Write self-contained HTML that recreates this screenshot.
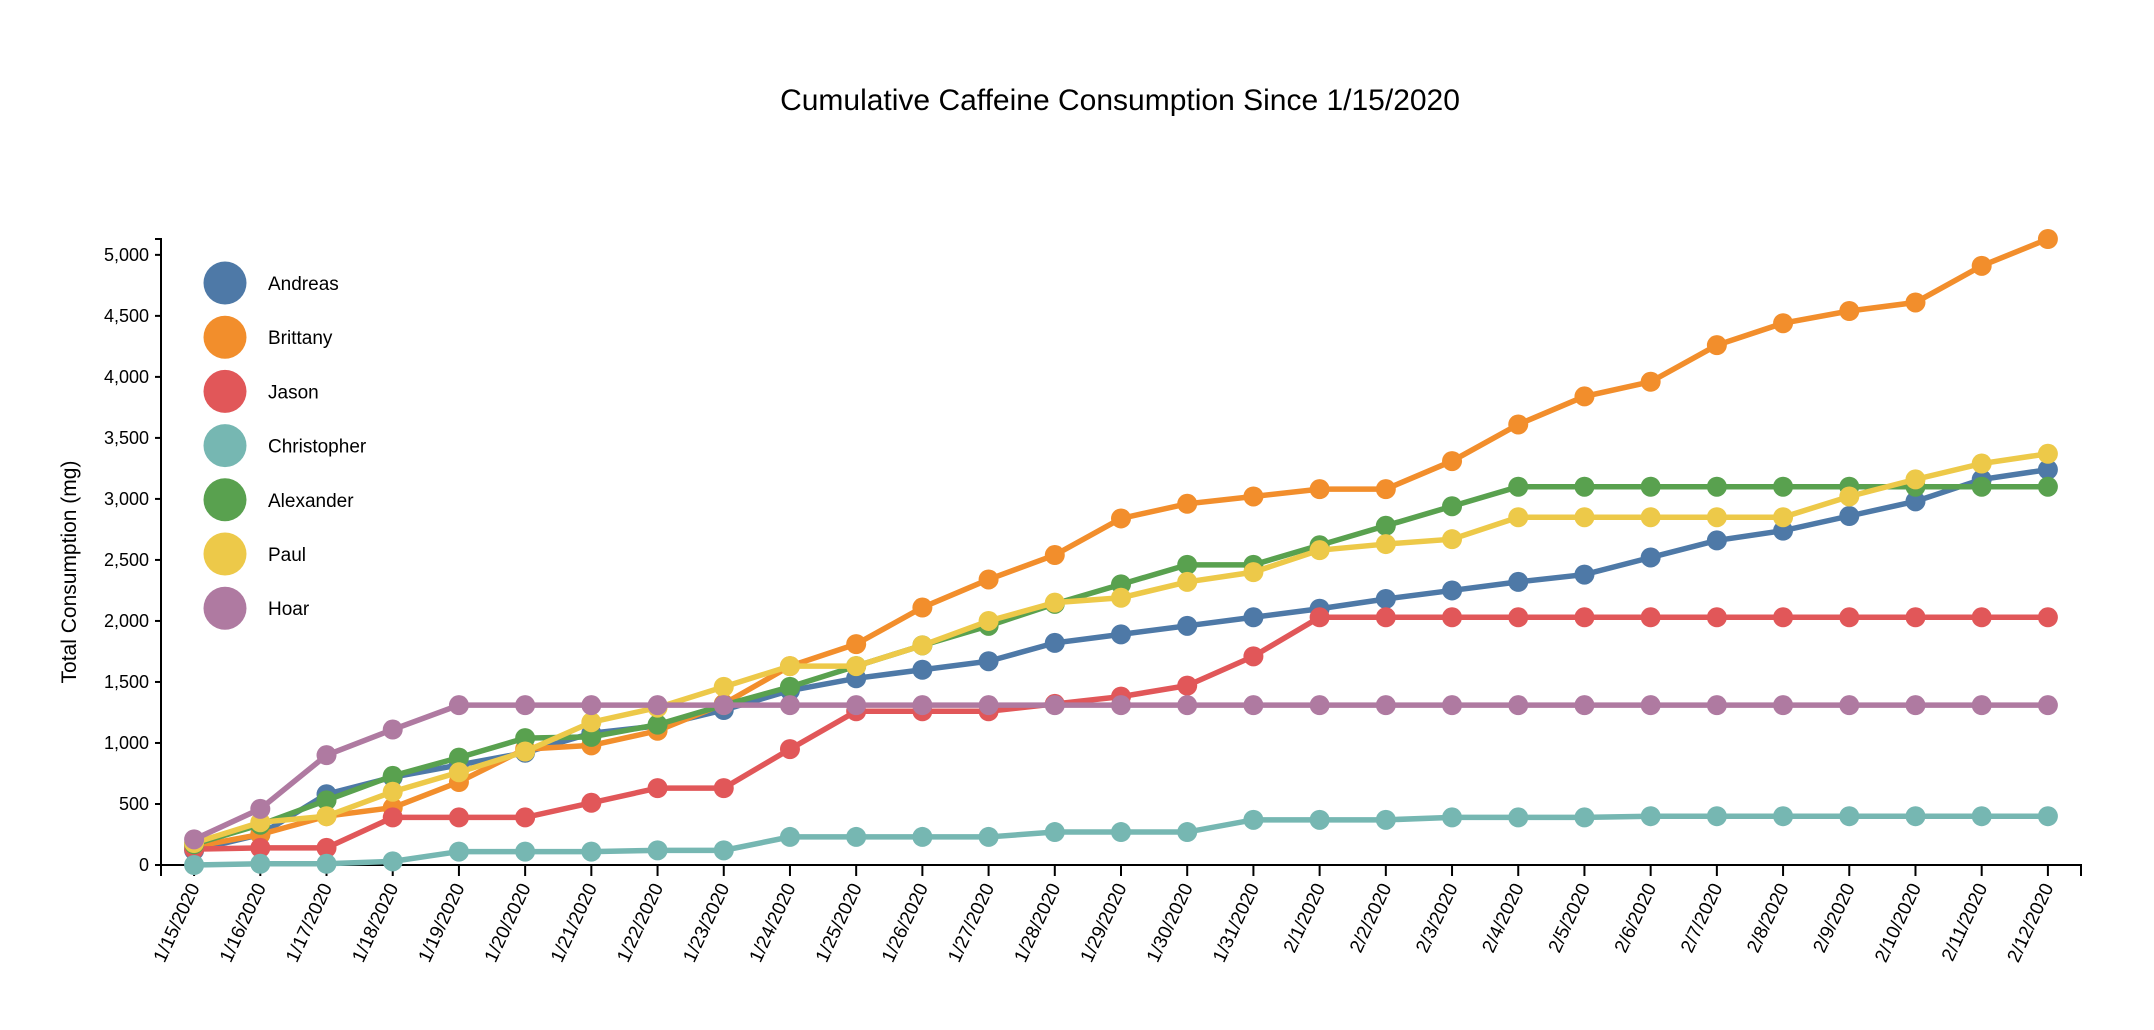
<!DOCTYPE html>
<html><head><meta charset="utf-8">
<style>
html,body{margin:0;padding:0;background:#fff;}
svg{display:block;font-family:"Liberation Sans",Arial,sans-serif;}
</style></head>
<body>
<svg id="chart" width="2154" height="1030"></svg>
<script>
const dates = ["1/15/2020","1/16/2020","1/17/2020","1/18/2020","1/19/2020","1/20/2020","1/21/2020","1/22/2020","1/23/2020","1/24/2020","1/25/2020","1/26/2020","1/27/2020","1/28/2020","1/29/2020","1/30/2020","1/31/2020","2/1/2020","2/2/2020","2/3/2020","2/4/2020","2/5/2020","2/6/2020","2/7/2020","2/8/2020","2/9/2020","2/10/2020","2/11/2020","2/12/2020"];
const names = ["Andreas","Brittany","Jason","Christopher","Alexander","Paul","Hoar"];
const colors = ["#4e79a7","#f28e2c","#e15759","#76b7b2","#59a14f","#edc949","#af7aa1"];
const andreas = [120,250,580,720,820,920,1080,1140,1270,1430,1530,1600,1670,1820,1890,1960,2030,2100,2180,2250,2320,2380,2520,2660,2740,2860,2980,3160,3240];
const brittany = [150,250,400,470,680,950,980,1100,1320,1630,1810,2110,2340,2540,2840,2960,3020,3080,3080,3310,3610,3840,3960,4260,4440,4540,4610,4910,5130];
const jason = [130,140,140,390,390,390,510,630,630,950,1260,1260,1260,1320,1380,1470,1710,2030,2030,2030,2030,2030,2030,2030,2030,2030,2030,2030,2030];
const christopher = [0,10,10,30,110,110,110,120,120,230,230,230,230,270,270,270,370,370,370,390,390,390,400,400,400,400,400,400,400];
const alexander = [170,330,530,730,880,1040,1050,1150,1310,1460,1630,1800,1960,2140,2300,2460,2460,2620,2780,2940,3100,3100,3100,3100,3100,3100,3100,3100,3100];
const paul = [180,350,400,600,760,930,1170,1290,1460,1630,1630,1800,2000,2150,2190,2320,2400,2580,2630,2670,2850,2850,2850,2850,2850,3020,3160,3290,3370];
const hoar = [210,460,900,1110,1310,1310,1310,1310,1310,1310,1310,1310,1310,1310,1310,1310,1310,1310,1310,1310,1310,1310,1310,1310,1310,1310,1310,1310,1310];
const yTicks = [0,500,1000,1500,2000,2500,3000,3500,4000,4500,5000];

const series = [andreas,brittany,jason,christopher,alexander,paul,hoar];
const NS = "http://www.w3.org/2000/svg";
const svg = document.getElementById("chart");
const L = 161, R = 2081, T = 239, B = 865;
const yMax = Math.max(...series.flat());
const step = (R - L) / (dates.length - 1 + 1);
function x(i){ return L + step*0.5 + i*step; }
function y(v){ return B - (v / yMax) * (B - T); }
function el(tag, attrs, parent){ const e = document.createElementNS(NS, tag); for (const k in attrs) e.setAttribute(k, attrs[k]); (parent||svg).appendChild(e); return e; }

const title = el("text",{x:1120,y:110,"text-anchor":"middle","font-size":30,fill:"#000"});
title.textContent = "Cumulative Caffeine Consumption Since 1/15/2020";



const yAxis = el("g",{});


el("path",{d:`M${L-6},${T}H${L}V${B}H${L-6}`,fill:"none",stroke:"#000","stroke-width":2},yAxis);
yTicks.forEach(t=>{
  const ty = y(t);
  el("line",{x1:L-6,x2:L,y1:ty,y2:ty,stroke:"#000","stroke-width":2},yAxis);
  const lb = el("text",{x:L-12,y:ty+6,"text-anchor":"end","font-size":18,fill:"#000"},yAxis);
  lb.textContent = t.toLocaleString("en-US");
  
  
});
const yt = el("text",{transform:`translate(76,${(T+B)/2+20}) rotate(-90)`,"text-anchor":"middle","font-size":21,fill:"#000"});
yt.textContent = "Total Consumption (mg)";



const xAxis = el("g",{});


el("path",{d:`M${L},${B+11}V${B}H${R}V${B+11}`,fill:"none",stroke:"#000","stroke-width":2},xAxis);
dates.forEach((d,i)=>{
  const tx = x(i);
  el("line",{x1:tx,x2:tx,y1:B,y2:B+11,stroke:"#000","stroke-width":2},xAxis);
  const lb = el("text",{transform:`translate(${tx+6},${B+22}) rotate(-65)`,"text-anchor":"end","font-size":19,fill:"#000"},xAxis);
  lb.textContent = d;
  
  
});

series.forEach((vals,s)=>{
  const g = el("g",{});
  
  
  const d = vals.map((v,i)=>(i?"L":"M")+x(i)+","+y(v)).join("");
  const line = el("path",{d:d,fill:"none",stroke:colors[s],"stroke-width":5.5},g);
  
  
  vals.forEach((v,i)=>{
    const c = el("circle",{cx:x(i),cy:y(v),r:10,fill:colors[s]},g);
    
    
  });
});

const lg = el("g",{});


names.forEach((n,i)=>{
  const cy = 283 + i*54.2;
  const c = el("circle",{cx:225,cy:cy,r:21.5,fill:colors[i]},lg);
  
  
  const t = el("text",{x:268,y:cy+7,"font-size":19,fill:"#000"},lg);
  t.textContent = n;
  
  
});
</script>
</body></html>
